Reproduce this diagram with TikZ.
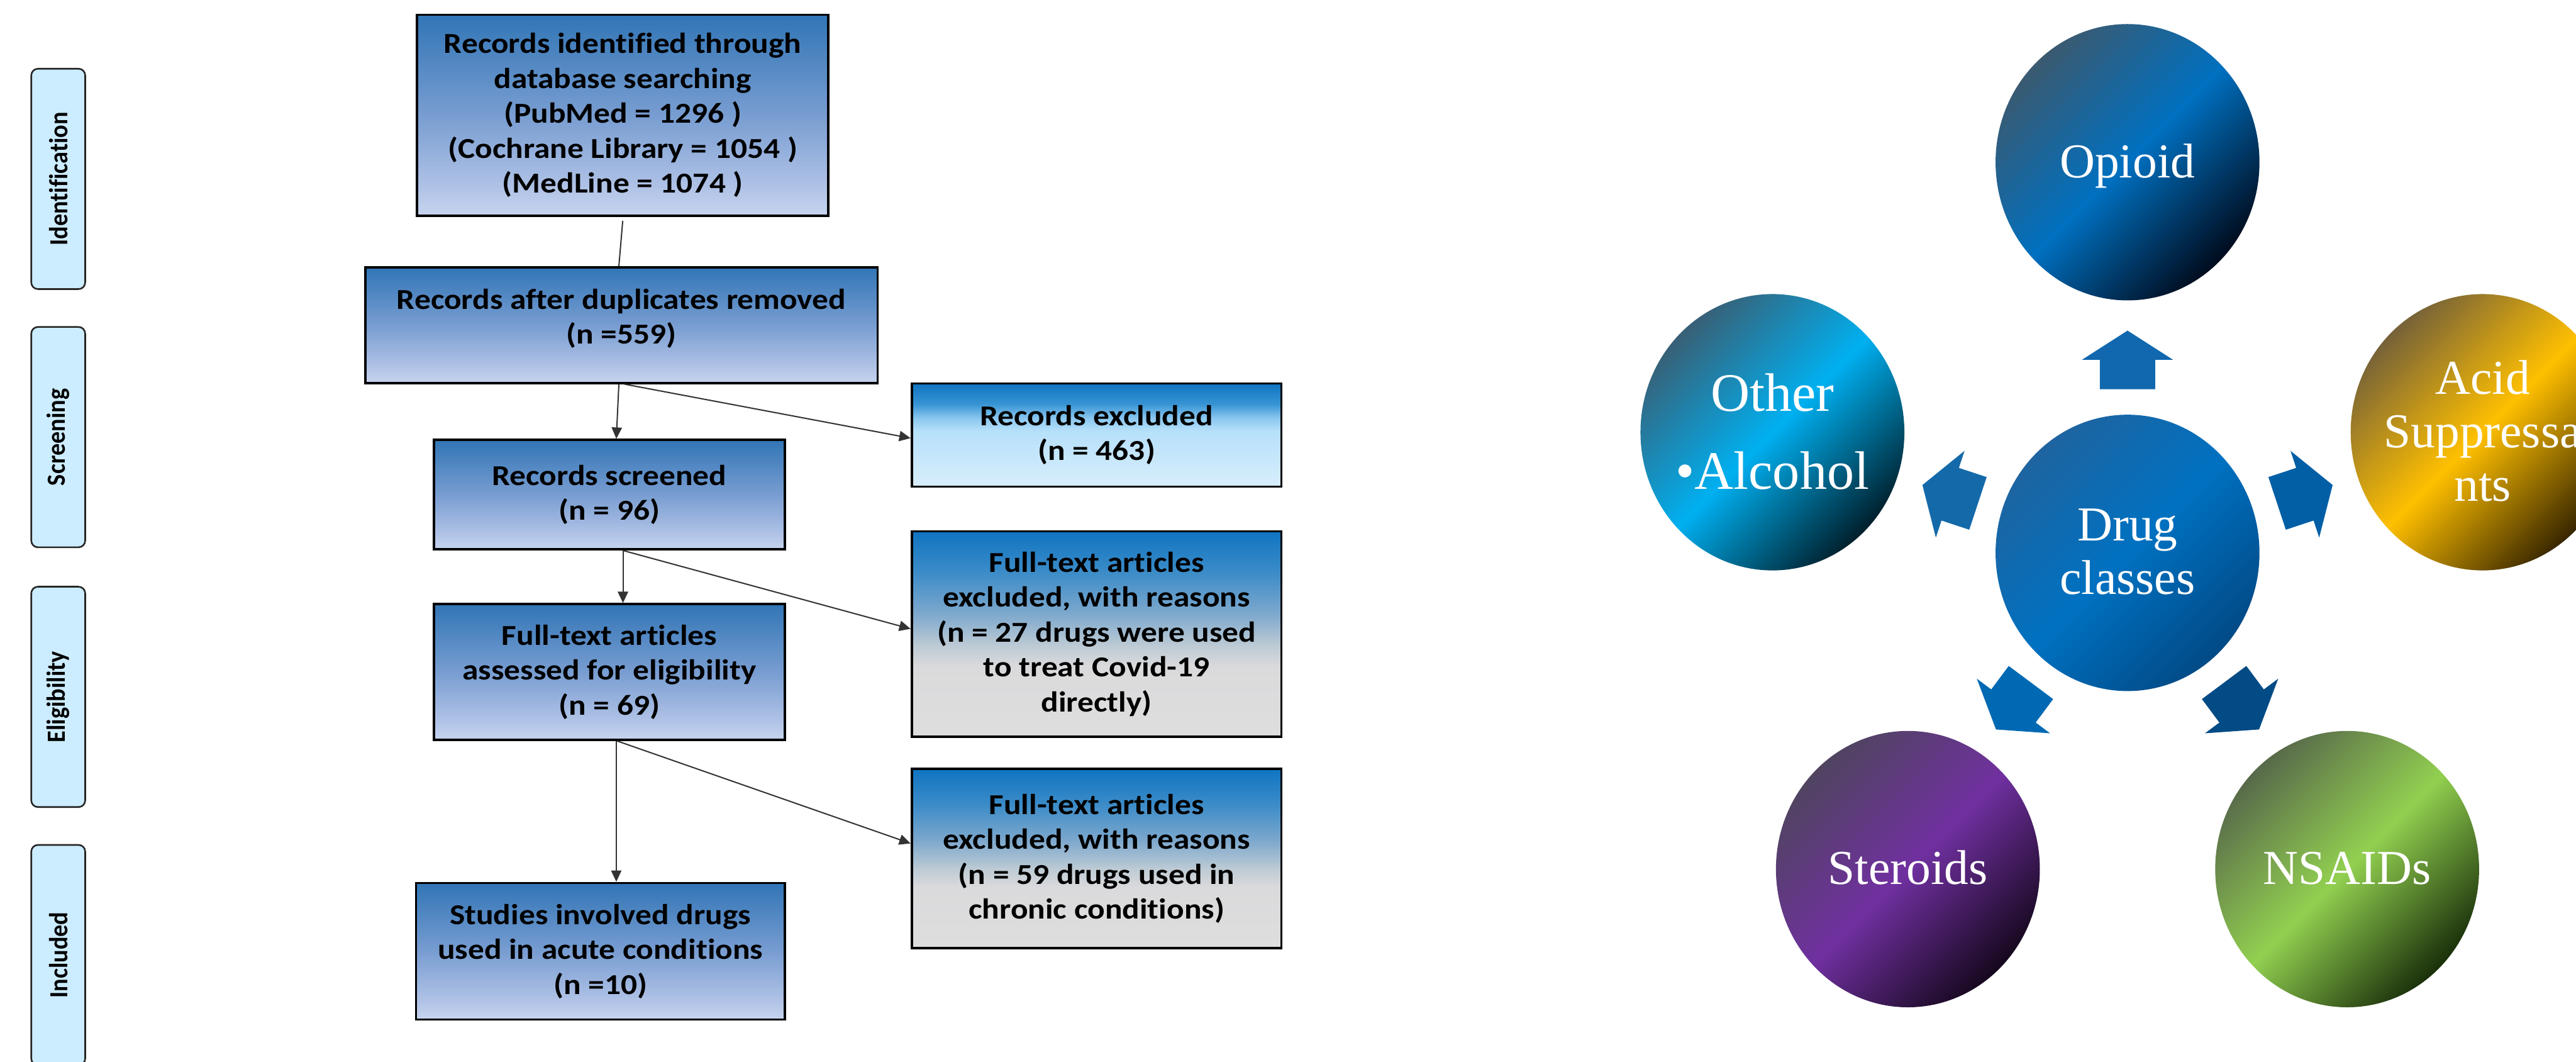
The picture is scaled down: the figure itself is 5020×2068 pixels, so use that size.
\documentclass[tikz,border=0pt]{standalone}
\usepackage{fontspec}
\usetikzlibrary{arrows.meta,calc,shapes.geometric}
\newfontfamily\boxfont[FakeStretch=1.12, Ligatures=NoCommon]{Carlito}
\newfontfamily\sidefont[FakeStretch=0.92, Ligatures=NoCommon]{Carlito}
\newfontfamily\circfont{Liberation Serif}

\definecolor{mbTop}{RGB}{49,117,182}
\definecolor{mbMid}{RGB}{120,157,209}
\definecolor{mbLow}{RGB}{170,190,228}
\definecolor{mbBot}{RGB}{198,212,238}
\definecolor{rxTop}{RGB}{15,116,193}
\definecolor{rxA}{RGB}{55,148,212}
\definecolor{rxB}{RGB}{140,200,240}
\definecolor{rxC}{RGB}{182,224,250}
\definecolor{rxBot}{RGB}{216,238,252}
\definecolor{fxA}{RGB}{60,140,200}
\definecolor{fxB}{RGB}{125,168,205}
\definecolor{fxC}{RGB}{190,203,212}
\definecolor{fxD}{RGB}{218,218,220}
\definecolor{fxBot}{RGB}{222,222,222}
\definecolor{sideblue}{RGB}{204,236,255}
\definecolor{aU}{RGB}{17,104,174}
\definecolor{aUL}{RGB}{20,105,169}
\definecolor{aUR}{RGB}{2,95,166}
\definecolor{aLL}{RGB}{0,105,179}
\definecolor{aLR}{RGB}{2,75,133}

\pgfdeclareverticalshading{mainshade}{100bp}{color(0bp)=(mbBot); color(25bp)=(mbBot); color(34bp)=(mbLow); color(50bp)=(mbMid); color(75bp)=(mbTop); color(100bp)=(mbTop)}
\pgfdeclareverticalshading{rexshade}{100bp}{color(0bp)=(rxBot); color(25bp)=(rxBot); color(52bp)=(rxC); color(58bp)=(rxB); color(65bp)=(rxA); color(75bp)=(rxTop); color(100bp)=(rxTop)}
\pgfdeclareverticalshading{fteshade}{100bp}{color(0bp)=(fxBot); color(25bp)=(fxBot); color(42bp)=(fxD); color(47bp)=(fxC); color(55bp)=(fxB); color(65bp)=(fxA); color(75bp)=(rxTop); color(100bp)=(rxTop)}

\tikzset{
  boxbase/.style={draw=black, line width=1.3pt, shade, inner sep=0pt, align=center,
    font=\boxfont\bfseries\fontsize{16}{19.35}\selectfont},
  mainbox/.style={boxbase, shading=mainshade},
  rexbox/.style={boxbase, shading=rexshade},
  ftebox/.style={boxbase, shading=fteshade},
  sidelab/.style={draw=black!85, line width=0.9pt, fill=sideblue, rounded corners=0.13cm,
    minimum width=4.29cm, minimum height=1.05cm, inner sep=0pt, rotate=90,
    font=\sidefont\bfseries\fontsize{14.5}{17}\selectfont},
  flow/.style={draw=black!80, line width=0.7pt},
  arr/.style={flow, -{Triangle[length=0.22cm,width=0.2cm]}},
  circ/.style={ellipse, minimum width=5.14cm, minimum height=5.38cm, inner sep=0pt},
  ctext/.style={text=white, align=center, font=\circfont\fontsize{27}{29.6}\selectfont},
}

\begin{document}
\begin{tikzpicture}[x=0.01cm, y=-0.01cm]
\useasboundingbox (0,0) rectangle (5020,2068);
\fill[white] (0,0) rectangle (5020,2068);
\clip (0,0) rectangle (5020,2068);

% side labels
\node[sidelab] (sid) at (113.5,348.5) {Identification};
\node[sidelab] (sscr) at (113.5,851.5) {Screening};
\node[sidelab] (selig) at (113.5,1357.5) {Eligibility};
\node[sidelab] (sinc) at (113.5,1860.5) {Included};

% flow boxes
\node[mainbox, minimum width=8.01cm, minimum height=3.91cm] (b1) at (1213.5,224.5)
  {Records identified through\\database searching\\(PubMed = 1296 )\\(Cochrane Library = 1054 )\\(MedLine = 1074 )};
\node[mainbox, minimum width=9.98cm, minimum height=2.25cm, text depth=0.34cm] (b2) at (1211,633.5)
  {Records after duplicates removed\\(n =559)};
\node[mainbox, minimum width=6.83cm, minimum height=2.13cm] (b3) at (1187.5,963.5)
  {Records screened\\(n = 96)};
\node[mainbox, minimum width=6.83cm, minimum height=2.64cm] (b4) at (1187.5,1309)
  {Full-text articles\\assessed for eligibility\\(n = 69)};
\node[mainbox, minimum width=7.18cm, minimum height=2.66cm] (b5) at (1170,1853)
  {Studies involved drugs\\used in acute conditions\\(n =10)};
\node[rexbox, minimum width=7.20cm, minimum height=2.01cm] (rex) at (2137,847.5)
  {Records excluded\\(n = 463)};
\node[ftebox, minimum width=7.20cm, minimum height=4.00cm] (fte1) at (2137,1235)
  {Full-text articles\\excluded, with reasons\\(n = 27 drugs were used\\to treat Covid-19\\directly)};
\node[ftebox, minimum width=7.20cm, minimum height=3.49cm] (fte2) at (2137,1672.5)
  {Full-text articles\\excluded, with reasons\\(n = 59 drugs used in\\chronic conditions)};

% flow connectors
\draw[flow] ($(b1.south)+(0,8)$) -- ($(b2.north)+(-5,0)$);
\draw[arr] ($(b2.south)+(-5,0)$) -- ($(b3.north)+(13.5,0)$);
\draw[arr] ($(b2.south)+(6,0)$) -- ($(rex.west)+(0,6)$);
\draw[arr] ($(b3.south)+(26.5,0)$) -- ($(b4.north)+(26.5,0)$);
\draw[arr] ($(b3.south)+(26.5,0)$) -- ($(fte1.west)+(0,-10)$);
\draw[arr] ($(b4.south)+(13.5,0)$) -- ($(b5.north)+(31,0)$);
\draw[arr] ($(b4.south)+(15,0)$) -- ($(fte2.west)+(0,-29.5)$);

% drug class circles (diagonal gradients)
\node[circ, top color={rgb,255:red,58;green,90;blue,112}, bottom color={rgb,255:red,0;green,12;blue,30},
  middle color={rgb,255:red,0;green,112;blue,192}, shading angle=45] (opioid) at (4146,316) {};
\node[circ, top color={rgb,255:red,56;green,96;blue,118}, bottom color={rgb,255:red,0;green,32;blue,45},
  middle color={rgb,255:red,0;green,176;blue,240}, shading angle=45] (other) at (3454,842) {};
\node[circ, top color={rgb,255:red,118;green,98;blue,56}, bottom color={rgb,255:red,56;green,38;blue,0},
  middle color={rgb,255:red,255;green,192;blue,0}, shading angle=45] (acid) at (4838,842) {};
\node[circ, top color={rgb,255:red,30;green,100;blue,160}, bottom color={rgb,255:red,1;green,74;blue,134},
  middle color={rgb,255:red,0;green,113;blue,193}, shading angle=45] (drug) at (4146,1077) {};
\node[circ, top color={rgb,255:red,80;green,68;blue,96}, bottom color={rgb,255:red,22;green,8;blue,30},
  middle color={rgb,255:red,112;green,48;blue,160}, shading angle=45] (steroids) at (3718,1693) {};
\node[circ, top color={rgb,255:red,88;green,106;blue,74}, bottom color={rgb,255:red,26;green,48;blue,10},
  middle color={rgb,255:red,146;green,208;blue,80}, shading angle=45] (nsaids) at (4574,1693) {};

% circle texts
\node[ctext, anchor=base] (opioidT) at (4146,346) {Opioid};
\node[ctext, font=\circfont\fontsize{30}{43}\selectfont] (otherT) at (3454,841) {Other\\\textbullet Alcohol};
\node[ctext] (acidT) at (4838,840) {Acid\\Suppressa\\nts};
\node[ctext] (drugT) at (4146,1075) {Drug\\classes};
\node[ctext, anchor=base] (steroidsT) at (3718,1723) {Steroids};
\node[ctext, anchor=base] (nsaidsT) at (4574,1723) {NSAIDs};

% block arrows from the centre
\foreach \a/\d/\c in {90/319/aU, 161.7/307/aUL, 18.3/307/aUR, 233.3/315/aLL, 306.7/315/aLR}{
  \fill[\c, shift={(drug.center)}, rotate=\a]
    (\d,54) -- ++(57,0) -- ++(0,35) -- ++(57,-89) -- ++(-57,-89) -- ++(0,35) -- ++(-57,0) -- cycle;
}
\end{tikzpicture}
\end{document}
